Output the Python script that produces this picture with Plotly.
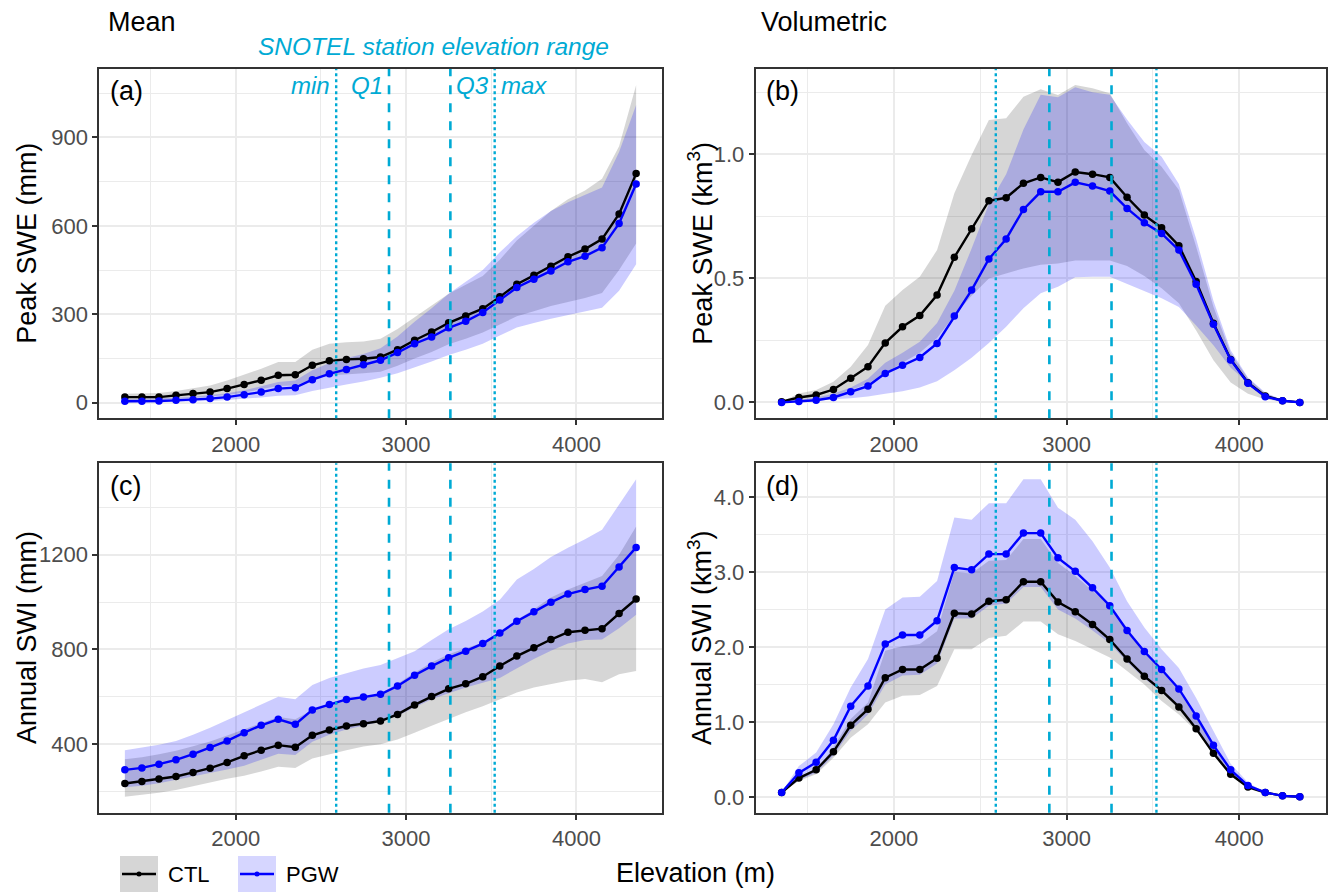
import plotly.graph_objects as go

W, H = 1329, 893

elev = [1350 + 100 * i for i in range(31)]

# ---- panel (a): Mean peak SWE (mm)
a_ctl = [19, 19, 19, 25, 31, 36, 48, 62, 76, 93, 95, 127, 142, 147, 149, 155, 180, 212, 240, 271,
         294, 319, 359, 402, 432, 463, 495, 521, 555, 640, 777]
a_pgw = [5, 5, 6, 8, 10, 14, 19, 27, 36, 48, 51, 78, 98, 113, 129, 144, 170, 200, 223, 254,
         276, 306, 348, 391, 419, 447, 478, 497, 526, 608, 742]
a_ctl_lo = [8, 8, 9, 12, 16, 20, 26, 35, 45, 57, 58, 80, 92, 97, 100, 105, 125, 150, 172, 198,
            217, 238, 265, 293, 310, 328, 342, 355, 372, 450, 540]
a_ctl_hi = [30, 31, 33, 40, 48, 58, 75, 95, 115, 138, 138, 180, 200, 205, 208, 217, 250, 290, 330, 370,
            400, 430, 485, 550, 600, 650, 690, 720, 760, 870, 1078]
a_pgw_lo = [1, 1, 2, 3, 4, 6, 9, 13, 18, 24, 25, 40, 52, 62, 72, 85, 100, 120, 140, 162,
            180, 200, 228, 255, 270, 285, 298, 310, 322, 380, 470]
a_pgw_hi = [12, 13, 14, 17, 20, 25, 32, 42, 55, 70, 75, 110, 135, 152, 165, 185, 225, 275, 320, 370,
            410, 450, 510, 565, 610, 650, 680, 705, 730, 850, 1010]

# ---- panel (b): Volumetric peak SWE (km3)
b_ctl = [0.003, 0.02, 0.03, 0.052, 0.097, 0.144, 0.24, 0.305, 0.35, 0.433, 0.585, 0.70, 0.813, 0.825,
         0.883, 0.907, 0.888, 0.929, 0.92, 0.907, 0.827, 0.755, 0.704, 0.632, 0.487, 0.319, 0.173,
         0.079, 0.026, 0.007, 0.0]
b_pgw = [0.0, 0.004, 0.009, 0.02, 0.043, 0.066, 0.117, 0.15, 0.181, 0.238, 0.348, 0.453, 0.578, 0.659,
         0.778, 0.849, 0.849, 0.887, 0.872, 0.852, 0.782, 0.724, 0.681, 0.614, 0.476, 0.315, 0.171,
         0.077, 0.023, 0.007, 0.0]
b_ctl_lo = [0.0, 0.008, 0.012, 0.025, 0.05, 0.075, 0.12, 0.16, 0.2, 0.26, 0.35, 0.43, 0.5, 0.52,
            0.54, 0.555, 0.56, 0.572, 0.572, 0.572, 0.55, 0.51, 0.46, 0.4, 0.29, 0.17, 0.08,
            0.035, 0.012, 0.003, 0.0]
b_ctl_hi = [0.003, 0.036, 0.05, 0.083, 0.144, 0.231, 0.39, 0.453, 0.507, 0.614, 0.843, 0.997, 1.138, 1.145,
            1.232, 1.262, 1.239, 1.28, 1.266, 1.246, 1.125, 1.017, 0.95, 0.856, 0.628, 0.386, 0.198,
            0.097, 0.036, 0.009, 0.0]
b_pgw_lo = [0.0, 0.003, 0.007, 0.012, 0.017, 0.024, 0.035, 0.045, 0.06, 0.085, 0.13, 0.18, 0.24, 0.305,
            0.38, 0.44, 0.466, 0.505, 0.507, 0.507, 0.48, 0.45, 0.42, 0.385, 0.31, 0.23, 0.14,
            0.08, 0.03, 0.008, 0.0]
b_pgw_hi = [0.0, 0.01, 0.02, 0.035, 0.06, 0.095, 0.16, 0.2, 0.245, 0.32, 0.45, 0.62, 0.8, 0.92,
            1.1, 1.24, 1.23, 1.27, 1.25, 1.24, 1.14, 1.05, 0.99, 0.88, 0.66, 0.41, 0.21,
            0.1, 0.04, 0.01, 0.0]

# ---- panel (c): Mean annual SWI (mm)
c_ctl = [234, 243, 253, 264, 281, 299, 323, 351, 375, 396, 387, 438, 460, 477, 487, 498, 526, 566, 601, 634,
         655, 685, 730, 772, 807, 842, 873, 881, 888, 952, 1013]
c_pgw = [292, 300, 316, 334, 358, 386, 414, 449, 480, 505, 484, 545, 568, 589, 599, 611, 646, 691, 730, 765,
         793, 825, 870, 919, 959, 999, 1034, 1053, 1067, 1148, 1231]
c_ctl_lo = [178, 186, 195, 207, 222, 238, 254, 267, 285, 305, 300, 340, 357, 375, 390, 400, 420, 449, 478, 508,
            535, 560, 589, 618, 640, 655, 668, 675, 662, 695, 709]
c_ctl_hi = [337, 345, 358, 372, 392, 412, 437, 463, 490, 515, 505, 545, 565, 585, 600, 615, 655, 702, 745, 780,
            805, 830, 870, 925, 970, 1020, 1053, 1080, 1110, 1200, 1319]
c_pgw_lo = [218, 225, 235, 248, 262, 278, 293, 309, 335, 360, 355, 410, 440, 462, 480, 495, 520, 555, 590, 615,
            640, 660, 680, 720, 760, 795, 825, 840, 842, 890, 947]
c_pgw_hi = [375, 385, 398, 414, 440, 470, 502, 533, 565, 600, 590, 650, 680, 700, 720, 735, 765, 793, 840, 885,
            920, 960, 1010, 1095, 1140, 1190, 1230, 1265, 1305, 1410, 1519]

# ---- panel (d): Volumetric annual SWI (km3)
d_ctl = [0.058, 0.25, 0.36, 0.60, 0.955, 1.17, 1.59, 1.70, 1.70, 1.85, 2.45, 2.44, 2.61, 2.63, 2.87, 2.87,
         2.60, 2.47, 2.30, 2.10, 1.84, 1.61, 1.42, 1.20, 0.91, 0.58, 0.30, 0.13, 0.058, 0.013, 0.0]
d_pgw = [0.058, 0.32, 0.46, 0.755, 1.21, 1.48, 2.04, 2.16, 2.16, 2.35, 3.06, 3.03, 3.24, 3.24, 3.52, 3.52,
         3.19, 3.01, 2.79, 2.55, 2.22, 1.94, 1.70, 1.44, 1.08, 0.69, 0.36, 0.15, 0.058, 0.013, 0.0]
d_ctl_lo = [0.058, 0.21, 0.30, 0.52, 0.79, 0.97, 1.26, 1.35, 1.36, 1.48, 1.97, 1.97, 2.12, 2.15, 2.34, 2.34,
            2.17, 2.08, 1.97, 1.86, 1.68, 1.50, 1.28, 1.10, 0.88, 0.57, 0.30, 0.13, 0.05, 0.012, 0.0]
d_ctl_hi = [0.058, 0.235, 0.35, 0.66, 1.04, 1.26, 1.95, 2.01, 2.04, 2.21, 3.0, 2.98, 3.15, 3.16, 3.44, 3.44,
            3.12, 2.95, 2.75, 2.55, 2.24, 1.95, 1.68, 1.41, 1.06, 0.66, 0.32, 0.12, 0.058, 0.013, 0.0]
d_pgw_lo = [0.05, 0.22, 0.32, 0.55, 0.88, 1.1, 1.5, 1.62, 1.63, 1.78, 2.38, 2.38, 2.55, 2.58, 2.8, 2.8,
            2.5, 2.38, 2.22, 2.05, 1.8, 1.58, 1.4, 1.18, 0.9, 0.58, 0.3, 0.13, 0.05, 0.012, 0.0]
d_pgw_hi = [0.058, 0.41, 0.59, 0.97, 1.46, 1.84, 2.5, 2.66, 2.67, 2.88, 3.73, 3.70, 3.92, 3.92, 4.24, 4.24,
            3.86, 3.70, 3.41, 3.06, 2.61, 2.26, 1.97, 1.72, 1.32, 0.88, 0.44, 0.19, 0.058, 0.015, 0.0]

# SNOTEL station elevation statistics (m)
snotel_min, snotel_q1, snotel_q3, snotel_max = 2590, 2900, 3260, 3520

panel_titles = ["Mean", "Volumetric"]
ylabels = ["Peak SWE (mm)", "Peak SWE (km<sup>3</sup>)", "Annual SWI (mm)", "Annual SWI (km<sup>3</sup>)"]
panel_tags = ["(a)", "(b)", "(c)", "(d)"]
series_names = ["CTL", "PGW"]

# ---------------- styling
FONT = "Liberation Sans, Arial, Helvetica, sans-serif"
CTL_COLOR = "#000000"
PGW_COLOR = "#0000FF"
CTL_FILL = "rgba(0,0,0,0.16)"
PGW_FILL = "rgba(0,0,255,0.20)"
CYAN = "#00AAD4"
BORDER = "#333333"
GRID = "#EBEBEB"


def px_x(p):
    return p / W


def px_y(p):
    return 1 - p / H


xdom = [[px_x(99.3), px_x(661.7)], [px_x(755.7), px_x(1325.7)]]
ydom = [[px_y(418.3), px_y(69)], [px_y(812.7), px_y(463.3)]]

panels = [
    (a_ctl, a_pgw, a_ctl_lo, a_ctl_hi, a_pgw_lo, a_pgw_hi, 300, 150, None),
    (b_ctl, b_pgw, b_ctl_lo, b_ctl_hi, b_pgw_lo, b_pgw_hi, 0.5, 0.25, ".1f"),
    (c_ctl, c_pgw, c_ctl_lo, c_ctl_hi, c_pgw_lo, c_pgw_hi, 400, 200, None),
    (d_ctl, d_pgw, d_ctl_lo, d_ctl_hi, d_pgw_lo, d_pgw_hi, 1.0, 0.5, ".1f"),
]

fig = go.Figure()
layout = dict(
    width=W, height=H, margin=dict(l=0, r=0, t=0, b=0),
    paper_bgcolor="white", plot_bgcolor="white", showlegend=False,
    font=dict(family=FONT, size=22, color="#4D4D4D"),
)
shapes = []
annotations = []

for i, (ctl, pgw, clo, chi, plo, phi, dt, mdt, fmt) in enumerate(panels):
    n = i + 1
    xa = "x" if n == 1 else f"x{n}"
    ya = "y" if n == 1 else f"y{n}"
    col, row = i % 2, i // 2
    # bands
    fig.add_trace(go.Scatter(x=elev + elev[::-1], y=chi + clo[::-1], fill="toself", fillcolor=CTL_FILL,
                             line=dict(width=0), mode="lines", hoverinfo="skip", xaxis=xa, yaxis=ya))
    fig.add_trace(go.Scatter(x=elev + elev[::-1], y=phi + plo[::-1], fill="toself", fillcolor=PGW_FILL,
                             line=dict(width=0), mode="lines", hoverinfo="skip", xaxis=xa, yaxis=ya))
    # lines
    fig.add_trace(go.Scatter(x=elev, y=ctl, mode="lines+markers", name=series_names[0],
                             line=dict(color=CTL_COLOR, width=2.4), marker=dict(color=CTL_COLOR, size=7.5),
                             xaxis=xa, yaxis=ya))
    fig.add_trace(go.Scatter(x=elev, y=pgw, mode="lines+markers", name=series_names[1],
                             line=dict(color=PGW_COLOR, width=2.4), marker=dict(color=PGW_COLOR, size=7.5),
                             xaxis=xa, yaxis=ya))
    allv = ctl + pgw + clo + chi + plo + phi
    lo, hi = min(allv), max(allv)
    pad = 0.05 * (hi - lo)
    axx = dict(domain=xdom[col], range=[1200, 4500], anchor=ya, tickmode="linear", tick0=0, dtick=1000,
               showgrid=True, gridcolor=GRID, gridwidth=2, zeroline=False,
               showline=True, linecolor=BORDER, linewidth=2, mirror=True,
               ticks="outside", ticklen=5, tickwidth=2, tickcolor=BORDER,
               tickfont=dict(size=22, color="#4D4D4D", family=FONT),
               minor=dict(dtick=500, tick0=0, showgrid=True, gridcolor=GRID, gridwidth=1.2, ticks=""))
    ayy = dict(domain=ydom[row], range=[lo - pad, hi + pad], anchor=xa, tickmode="linear", tick0=0, dtick=dt,
               showgrid=True, gridcolor=GRID, gridwidth=2, zeroline=False,
               showline=True, linecolor=BORDER, linewidth=2, mirror=True,
               ticks="outside", ticklen=5, tickwidth=2, tickcolor=BORDER,
               tickfont=dict(size=22, color="#4D4D4D", family=FONT),
               minor=dict(dtick=mdt, tick0=0, showgrid=True, gridcolor=GRID, gridwidth=1.2, ticks=""))
    if fmt:
        ayy["tickformat"] = fmt
    layout["xaxis" if n == 1 else f"xaxis{n}"] = axx
    layout["yaxis" if n == 1 else f"yaxis{n}"] = ayy
    # station lines
    for xv, dash in [(snotel_min, "dot"), (snotel_q1, "dash"), (snotel_q3, "dash"), (snotel_max, "dot")]:
        shapes.append(dict(type="line", xref=xa, yref=f"{ya} domain", x0=xv, x1=xv, y0=0, y1=1,
                           line=dict(color=CYAN, width=2.6 if dash == "dash" else 2.4, dash=dash), layer="above"))
    # panel tag
    annotations.append(dict(xref=f"{xa} domain", yref=f"{ya} domain", x=0.015, y=0.985, xanchor="left",
                            yanchor="top", text=panel_tags[i], showarrow=False,
                            font=dict(size=27, color="black", family=FONT)))
    # y-axis title
    ytx = [27, 700][col]
    annotations.append(dict(xref="paper", yref="paper", x=px_x(ytx), y=(ydom[row][0] + ydom[row][1]) / 2,
                            text=ylabels[i], textangle=-90, showarrow=False, xanchor="center", yanchor="middle",
                            font=dict(size=27, color="black", family=FONT)))

# SNOTEL labels in panel (a)
for xv, lab, anc in [(snotel_min, "min", "right"), (snotel_q1, "Q1", "right"),
                     (snotel_q3, "Q3", "left"), (snotel_max, "max", "left")]:
    annotations.append(dict(xref="x", yref="paper", x=xv, y=px_y(86), text=f"<i>{lab}</i>", showarrow=False,
                            xanchor=anc, yanchor="middle", xshift=-4 if anc == "right" else 4,
                            font=dict(size=24, color=CYAN, family=FONT)))
annotations.append(dict(xref="paper", yref="paper", x=px_x(433), y=px_y(47),
                        text="<i>SNOTEL station elevation range</i>", showarrow=False,
                        xanchor="center", yanchor="middle", font=dict(size=24.5, color=CYAN, family=FONT)))
# column titles
annotations.append(dict(xref="paper", yref="paper", x=px_x(106), y=px_y(22), text=panel_titles[0],
                        showarrow=False, xanchor="left", yanchor="middle",
                        font=dict(size=27, color="black", family=FONT)))
annotations.append(dict(xref="paper", yref="paper", x=px_x(759), y=px_y(22), text=panel_titles[1],
                        showarrow=False, xanchor="left", yanchor="middle",
                        font=dict(size=27, color="black", family=FONT)))
# x-axis title
annotations.append(dict(xref="paper", yref="paper", x=px_x(695), y=px_y(873), text="Elevation (m)",
                        showarrow=False, xanchor="center", yanchor="middle",
                        font=dict(size=27, color="black", family=FONT)))

# legend (manual keys)
for k, (x0, fillc, linec, name) in enumerate([(120, "#D6D6D6", CTL_COLOR, series_names[0]),
                                              (238, "#D6D6FF", PGW_COLOR, series_names[1])]):
    shapes.append(dict(type="rect", xref="paper", yref="paper", x0=px_x(x0), x1=px_x(x0 + 38),
                       y0=px_y(892), y1=px_y(856), fillcolor=fillc, line=dict(width=0), layer="above"))
    shapes.append(dict(type="line", xref="paper", yref="paper", x0=px_x(x0 + 2), x1=px_x(x0 + 36),
                       y0=px_y(874), y1=px_y(874), line=dict(color=linec, width=2.4), layer="above"))
    shapes.append(dict(type="circle", xref="paper", yref="paper", x0=px_x(x0 + 16.5), x1=px_x(x0 + 21.5),
                       y0=px_y(876.5), y1=px_y(871.5), fillcolor=linec, line=dict(width=0), layer="above"))
    annotations.append(dict(xref="paper", yref="paper", x=px_x(x0 + 46), y=px_y(874), text=name,
                            showarrow=False, xanchor="left", yanchor="middle",
                            font=dict(size=22, color="black", family=FONT)))

layout["shapes"] = shapes
layout["annotations"] = annotations
fig.update_layout(**layout)
fig.write_html("out.html")
